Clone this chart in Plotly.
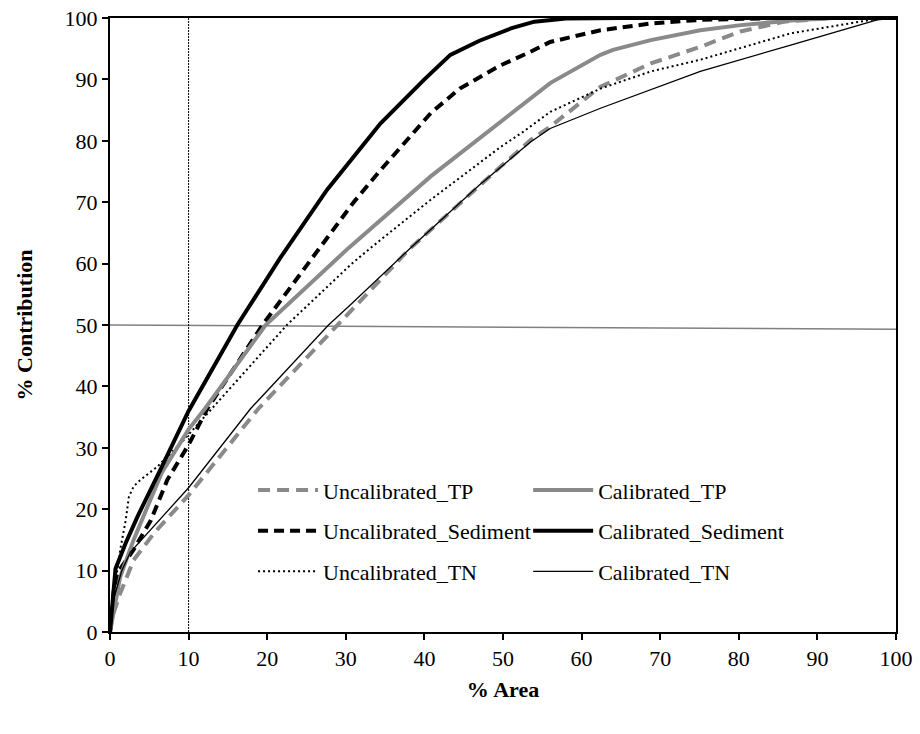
import plotly.graph_objects as go

# ---- data ----
cal_sed_x = [0, 0.7, 2, 3.5, 6.4, 10, 16.2, 21.7, 27.6, 34.4, 40, 43.3, 47, 51, 54, 58, 65, 100]
cal_sed_y = [0, 10.3, 14.5, 18.8, 26.4, 36, 50, 61, 72, 82.8, 90, 94, 96.3, 98.3, 99.4, 99.9, 100, 100]

uncal_sed_x = [0, 0.5, 1.2, 3, 5.2, 7.3, 10, 12.4, 19.4, 24, 28, 31, 34.4, 40.8, 44.5, 49.7, 53.5, 56, 62.4, 68.8, 75.1, 85, 100]
uncal_sed_y = [0, 7, 10.1, 13.4, 18.2, 24.8, 30.5, 36.4, 50, 58, 65, 70, 75.2, 84.5, 88.5, 92.3, 94.5, 96.1, 98, 99.1, 99.7, 100, 100]

cal_tp_x = [0, 1.3, 3, 6.6, 10, 12.1, 19.8, 30.4, 40.8, 49.7, 56, 62.4, 64, 68.8, 75.1, 80, 86.6, 92, 100]
cal_tp_y = [0, 9, 15, 26, 33, 36.4, 50, 62.6, 74.2, 83.1, 89.4, 94, 94.8, 96.4, 98, 98.8, 99.6, 100, 100]

uncal_tn_x = [0, 0.5, 1.3, 2, 2.4, 3, 3.9, 6, 9.4, 13.2, 22.5, 30.6, 33.1, 40.8, 49.7, 52.6, 56, 62.4, 68.8, 75.1, 86.6, 96.8, 100]
uncal_tn_y = [0, 6, 13.4, 18.2, 22, 23.7, 24.8, 26.9, 31.3, 36.7, 50, 59.8, 62.5, 70.4, 79, 81.5, 84.7, 88.5, 91.3, 93.2, 97.5, 99.7, 100]

cal_tn_x = [0, 0.5, 1.5, 2.6, 10, 17.9, 27.8, 30.6, 38.2, 47, 53.5, 56, 62.4, 68.8, 75.1, 86.6, 97.6, 100]
cal_tn_y = [0, 5.5, 10, 13, 23.5, 36.4, 50, 53.3, 62.5, 72.8, 79.8, 82, 85.3, 88.3, 91.3, 95.6, 99.7, 100]

uncal_tp_x = [0, 0.3, 1.3, 3, 5.6, 10, 18.9, 28.9, 38.2, 49.7, 53.5, 56, 62.4, 68.8, 75.1, 80.2, 85.7, 92, 100]
uncal_tp_y = [0, 2.5, 6.3, 11.7, 16.1, 22.3, 36.4, 50, 62.5, 75.8, 80.1, 82.3, 88.8, 92.6, 95.3, 97.8, 99.4, 100, 100]

ref_h_x = [0, 100]
ref_h_y = [50, 49.3]
ref_v_x = [10, 10]
ref_v_y = [0, 100]

x_ticks = list(range(0, 101, 10))
y_ticks = list(range(0, 101, 10))

GREY = "#8a8a8a"
FONT = "Liberation Serif"
FS = 22

fig = go.Figure()

# reference lines
fig.add_trace(go.Scatter(x=ref_h_x, y=ref_h_y, mode="lines", showlegend=False,
                         line=dict(color="#808080", width=1.5), hoverinfo="skip"))
fig.add_trace(go.Scatter(x=ref_v_x, y=ref_v_y, mode="lines", showlegend=False,
                         line=dict(color="black", width=1, dash="2px,1px"), hoverinfo="skip"))

series = [
    ("Uncalibrated_TP", uncal_tp_x, uncal_tp_y, GREY, 4, "12px,7px", "legend"),
    ("Uncalibrated_Sediment", uncal_sed_x, uncal_sed_y, "black", 4, "10px,6px", "legend"),
    ("Uncalibrated_TN", uncal_tn_x, uncal_tn_y, "black", 2, "2px,3px", "legend"),
    ("Calibrated_TP", cal_tp_x, cal_tp_y, GREY, 4, "solid", "legend2"),
    ("Calibrated_Sediment", cal_sed_x, cal_sed_y, "black", 4, "solid", "legend2"),
    ("Calibrated_TN", cal_tn_x, cal_tn_y, "black", 1.3, "solid", "legend2"),
]
for name, xs, ys, col, w, dash, lg in series:
    fig.add_trace(go.Scatter(x=xs, y=ys, mode="lines", name=name, legend=lg,
                             legendgroup=name,
                             line=dict(color=col, width=w, dash=dash)))

axis_common = dict(
    showline=True, linecolor="black", linewidth=2, mirror=True,
    ticks="outside", ticklen=6, tickwidth=2, tickcolor="black",
    showgrid=False, zeroline=False, automargin=False,
    tickfont=dict(family=FONT, size=FS, color="black"),
)

fig.update_layout(
    width=920, height=734,
    margin=dict(l=109.5, r=24, t=18, b=102),
    paper_bgcolor="white", plot_bgcolor="white",
    font=dict(family=FONT, size=FS, color="black"),
    xaxis=dict(range=[0, 100], tickvals=x_ticks, **axis_common,
               title=dict(text="<b>% Area</b>", font=dict(family=FONT, size=FS), standoff=11)),
    yaxis=dict(range=[0, 100], tickvals=y_ticks, **axis_common,
               title=dict(text="<b>% Contribution</b>", font=dict(family=FONT, size=FS), standoff=26)),
    legend=dict(x=0.182, y=0.265, xanchor="left", yanchor="top", orientation="v",
                bgcolor="rgba(0,0,0,0)", tracegroupgap=9, itemwidth=60,
                font=dict(family=FONT, size=FS)),
    legend2=dict(x=0.532, y=0.265, xanchor="left", yanchor="top", orientation="v",
                 bgcolor="rgba(0,0,0,0)", tracegroupgap=9, itemwidth=60,
                 font=dict(family=FONT, size=FS)),
)

fig.write_html("out.html", config={"displayModeBar": False},
               post_script="document.body.style.margin='0px';document.body.style.overflow='hidden';")
